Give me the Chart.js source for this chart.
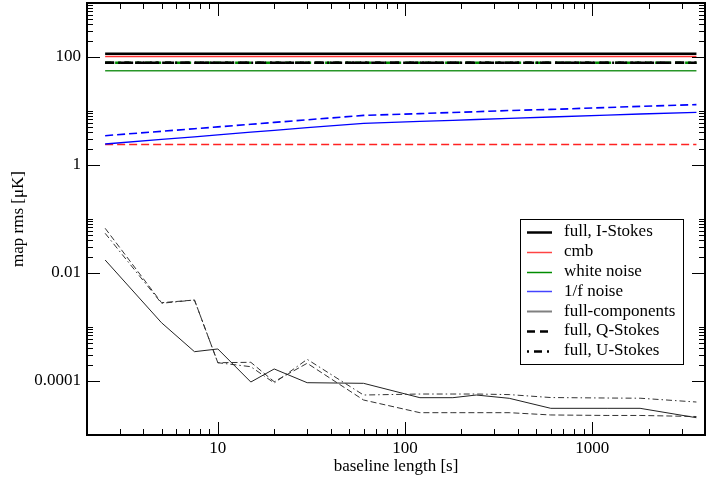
<!DOCTYPE html>
<html>
<head>
<meta charset="utf-8">
<script src="https://cdn.jsdelivr.net/npm/chart.js@4.4.0/dist/chart.umd.min.js"></script>
<style>body{margin:0;background:#fff}</style>
</head>
<body>
<canvas id="c" width="726" height="483"></canvas>
<script>
// baseline lengths [s]
const baseline = [2.5, 5, 7.5, 10, 15, 20, 30, 60, 120, 180, 240, 360, 600, 1200, 1800, 3600];
const span = [2.5, 3600];

// flat components (I and Q/U)
const fullI = [115, 115];
const fullQ = [78, 78];
const fullU = [78, 78];
const cmbI = [102, 102];
const cmbQU = [2.4, 2.4];
const whiteI = [55.7, 55.7];
const whiteQU = [78, 78];

// 1/f noise
const oofI = [2.45, 2.98, 3.33, 3.61, 4.05, 4.39, 4.93, 5.92, 6.42, 6.72, 6.96, 7.29, 7.74, 8.40, 8.80, 9.46];
const oofQU = [3.49, 4.21, 4.70, 5.08, 5.67, 6.15, 6.87, 8.29, 8.95, 9.38, 9.71, 10.2, 10.7, 11.6, 12.2, 13.1];

// full minus components
const residI = [0.0174, 0.00120, 0.000349, 0.000392, 9.57e-5, 1.67e-4, 9.3e-5, 9.06e-5, 4.91e-5, 4.91e-5, 5.5e-5, 4.78e-5, 3.12e-5, 3.12e-5, 3.12e-5, 2.09e-5];
const residQ = [0.0673, 0.00282, 0.00316, 0.000218, 0.000222, 9.7e-5, 2.13e-4, 4.45e-5, 2.59e-5, 2.59e-5, 2.59e-5, 2.59e-5, 2.35e-5, 2.3e-5, 2.3e-5, 2.2e-5];
const residU = [0.0543, 0.00275, 0.00316, 0.000218, 0.000184, 9.2e-5, 2.52e-4, 5.5e-5, 5.74e-5, 5.74e-5, 5.74e-5, 5.6e-5, 4.94e-5, 4.84e-5, 4.8e-5, 4.08e-5];

// tick labels
const xMajor = [10, 100, 1000];
const yMajor = [0.0001, 0.01, 1, 100];

const legendLabels = ['full, I-Stokes', 'cmb', 'white noise', '1/f noise', 'full-components', 'full, Q-Stokes', 'full, U-Stokes'];

const FONT = 'Liberation Serif, Times New Roman, serif';

function pts(xs, ys) { return xs.map((x, i) => ({x: x, y: ys[i]})); }
function line(xs, ys, color, width, dash) {
  return {data: pts(xs, ys), borderColor: color, borderWidth: width, borderDash: dash || [],
          pointRadius: 0, fill: false, tension: 0};
}

const datasets = [
  line(span, fullI, '#000', 2.5),
  line(span, fullQ, '#000', 2.5, [9, 6]),
  line(span, fullU, '#000', 2.5, [9, 4, 2, 4]),
  line(span, whiteQU, 'rgb(0,140,0)', 2.5, [6, 4]),
  line(span, cmbI, '#f33', 1.5),
  line(span, whiteI, 'rgb(40,150,40)', 1.5),
  line(baseline, oofI, '#00f', 1.3),
  line(baseline, oofQU, '#00f', 1.6, [8, 4]),
  line(span, cmbQU, '#f22', 1.6, [8, 4]),
  line(baseline, residI, '#222', 1),
  line(baseline, residQ, '#333', 1, [6, 3]),
  line(baseline, residU, '#333', 1, [6, 3, 1.5, 3])
];

const legendStyles = [
  {c: '#000', w: 2.5, d: []},
  {c: '#f44', w: 1.5, d: []},
  {c: 'rgb(0,140,0)', w: 1.5, d: []},
  {c: '#44f', w: 1.5, d: []},
  {c: '#808080', w: 2, d: []},
  {c: '#000', w: 2.5, d: [8, 5]},
  {c: '#000', w: 2.5, d: [2, 5, 8, 5]}
];

const frameAndLegend = {
  id: 'frameAndLegend',
  afterDatasetsDraw(chart) {
    const {ctx, chartArea: a, scales: {x, y}} = chart;
    ctx.save();
    ctx.strokeStyle = '#000';
    ctx.lineWidth = 1;
    ctx.setLineDash([]);
    ctx.beginPath();
    // x ticks (inward, bottom and top)
    const xMinor = [];
    [1, 10, 100, 1000].forEach(d => { for (let k = 2; k <= 9; k++) { const v = k * d; if (v > 2 && v < 4000) xMinor.push(v); } });
    const xt = (v, len) => {
      const p = Math.round(x.getPixelForValue(v)) + 0.5;
      ctx.moveTo(p, a.bottom); ctx.lineTo(p, a.bottom - len);
      ctx.moveTo(p, a.top); ctx.lineTo(p, a.top + len);
    };
    xMajor.forEach(v => xt(v, 13));
    xMinor.forEach(v => xt(v, 6));
    // y ticks (inward, left and right)
    const yt = (v, len) => {
      const p = Math.round(y.getPixelForValue(v)) + 0.5;
      ctx.moveTo(a.left, p); ctx.lineTo(a.left + len, p);
      ctx.moveTo(a.right, p); ctx.lineTo(a.right - len, p);
    };
    yMajor.forEach(v => {
      yt(v, 13);
      for (let k = 2; k <= 10; k++) yt(v * k, 6);
    });
    ctx.stroke();
    ctx.lineWidth = 2;
    ctx.strokeRect(a.left, a.top, a.right - a.left, a.bottom - a.top);

    // legend box
    const bx = a.right - 185, by = a.top + 216, bw = 163, bh = 145;
    ctx.fillStyle = '#fff';
    ctx.fillRect(bx, by, bw, bh);
    ctx.lineWidth = 1;
    ctx.strokeStyle = '#000';
    ctx.strokeRect(bx + 0.5, by + 0.5, bw, bh);
    ctx.font = '17px ' + FONT;
    ctx.textBaseline = 'middle';
    ctx.textAlign = 'left';
    legendLabels.forEach((lab, i) => {
      const s = legendStyles[i];
      const cy = by + 13 + i * 19.8;
      ctx.beginPath();
      ctx.strokeStyle = s.c;
      ctx.lineWidth = s.w;
      ctx.setLineDash(s.d);
      ctx.moveTo(bx + 7, Math.round(cy) + 0.5);
      ctx.lineTo(bx + 32, Math.round(cy) + 0.5);
      ctx.stroke();
      ctx.fillStyle = '#000';
      ctx.fillText(lab, bx + 44, cy);
    });
    ctx.restore();
  }
};

new Chart(document.getElementById('c'), {
  type: 'line',
  data: {datasets: datasets},
  options: {
    responsive: false,
    animation: false,
    layout: {padding: {top: 3, right: 21, left: 0, bottom: 0}},
    plugins: {legend: {display: false}, tooltip: {enabled: false}},
    scales: {
      x: {
        type: 'logarithmic', min: 2, max: 4000,
        grid: {display: false, drawTicks: false}, border: {display: false},
        afterBuildTicks: s => { s.ticks = xMajor.map(v => ({value: v})); },
        afterFit: s => { s.height = 48; s.paddingLeft = 0; s.paddingRight = 0; },
        ticks: {color: '#000', padding: 3, maxRotation: 0, font: {family: FONT, size: 17},
                callback: v => String(v)},
        title: {display: true, text: 'baseline length [s]', color: '#000',
                font: {family: FONT, size: 17}, padding: {top: 0, bottom: 6}}
      },
      y: {
        type: 'logarithmic', min: 1e-5, max: 1000,
        grid: {display: false, drawTicks: false}, border: {display: false},
        afterBuildTicks: s => { s.ticks = yMajor.map(v => ({value: v})); },
        afterFit: s => { s.width = 87; s.paddingTop = 0; s.paddingBottom = 0; },
        ticks: {color: '#000', padding: 6, font: {family: FONT, size: 17},
                callback: v => String(v)},
        title: {display: true, text: 'map rms [μK]', color: '#000',
                font: {family: FONT, size: 17}, padding: {top: 8, bottom: 0}}
      }
    }
  },
  plugins: [frameAndLegend]
});
</script>
</body>
</html>
